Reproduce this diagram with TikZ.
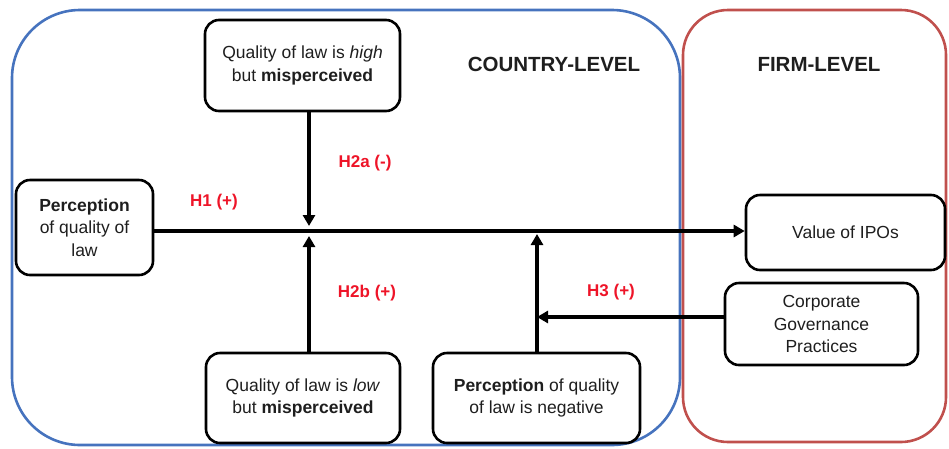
\documentclass[tikz,border=0pt]{standalone}
\usepackage{fontspec}
\setmainfont{Liberation Sans}
\usetikzlibrary{arrows.meta}
\definecolor{cblue}{RGB}{70,115,190}
\definecolor{cred}{RGB}{192,80,77}
\definecolor{hred}{RGB}{238,20,40}
\definecolor{ink}{RGB}{30,30,30}
\tikzset{
  box/.style={draw=black, line width=2.6pt, rounded corners=14pt, align=center, inner sep=2pt,
    text=ink, font=\fontsize{17.5}{22.5}\selectfont},
  arr/.style={line width=3.6pt, -{Triangle[length=11pt,width=12pt]}},
  hlab/.style={text=hred, font=\fontsize{17}{20}\selectfont\bfseries},
  head/.style={text=ink, font=\fontsize{20.5}{24}\selectfont\bfseries},
}
\begin{document}
\begin{tikzpicture}[x=1pt,y=-1pt]
\useasboundingbox (0,0) rectangle (949,448);
% level frames
\draw[cblue, line width=2.6pt, rounded corners=68pt] (12,10) rectangle (680,445);
\draw[cred, line width=2.6pt, rounded corners=45pt] (683,10) rectangle (946,442);
\node[head] (country) at (554,64) {COUNTRY-LEVEL};
\node[head] (firm) at (819,64) {FIRM-LEVEL};
% boxes
\node[box, minimum width=195pt, minimum height=91pt] (high) at (302.5,65.5)
  {Quality of law is \textit{high}\\but \textbf{misperceived}};
\node[box, minimum width=137pt, minimum height=95pt] (perc) at (84.5,227.5)
  {\textbf{Perception}\\of quality of\\law};
\node[box, minimum width=194pt, minimum height=90pt] (low) at (303,398)
  {Quality of law is \textit{low}\\but \textbf{misperceived}};
\node[box, minimum width=207pt, minimum height=90pt] (neg) at (536.5,398)
  {\textbf{Perception} of quality\\of law is negative};
\node[box, minimum width=199pt, minimum height=75pt] (ipo) at (845.5,232.5)
  {Value of IPOs};
\node[box, minimum width=193pt, minimum height=82pt] (corp) at (821.5,324)
  {Corporate\\Governance\\Practices};
% helper coordinates
\coordinate (mainy) at (0,231);
\coordinate (j1top) at (309,226);
\coordinate (j1bot) at (309,236);
\coordinate (j2) at (537,234);
\coordinate (h3y) at (0,317);
\coordinate (h3end) at (537,317);
% connectors
\draw[arr] (perc.east |- mainy) -- (ipo.west |- mainy);
\draw[arr] (high.south -| j1top) -- (j1top);
\draw[arr] (low.north -| j1bot) -- (j1bot);
\draw[arr] (neg.north -| j2) -- (j2);
\draw[arr] (corp.west |- h3y) -- (h3end);
% labels
\node[hlab] (h1) at (214,202) {H1 (+)};
\node[hlab] (h2a) at (365,163) {H2a (-)};
\node[hlab] (h2b) at (367,293) {H2b (+)};
\node[hlab] (h3) at (611,292) {H3 (+)};
\end{tikzpicture}
\end{document}
